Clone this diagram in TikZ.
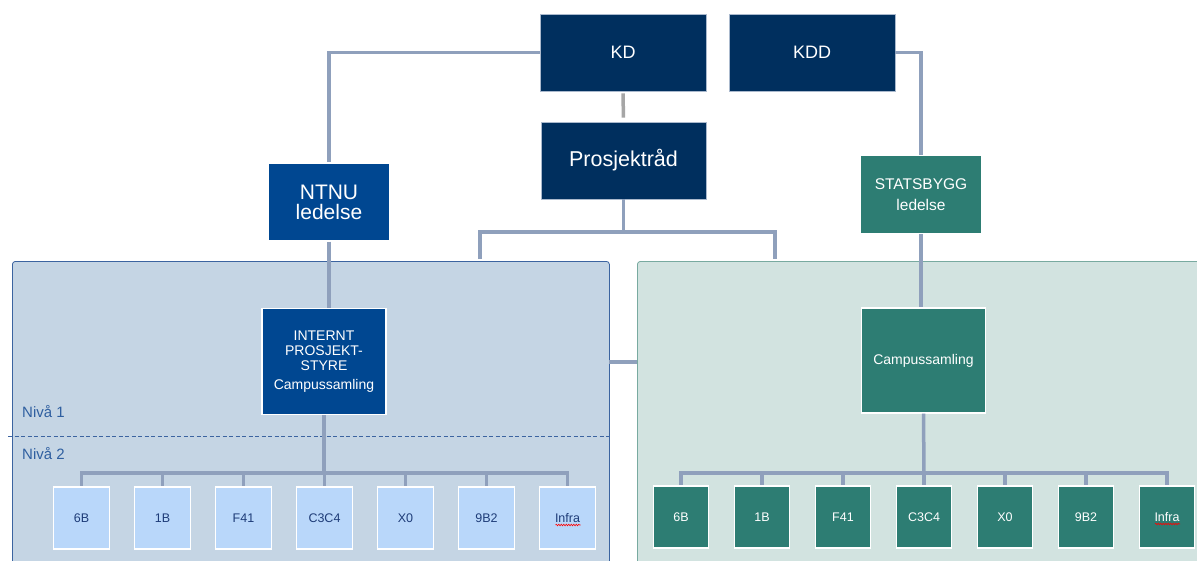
\documentclass[tikz,border=0pt]{standalone}
\usepackage{fontspec}
\setmainfont{Liberation Sans}
\usetikzlibrary{decorations.pathmorphing}
\definecolor{navy}{RGB}{0,47,94}
\definecolor{ntnublue}{RGB}{0,71,145}
\definecolor{teal}{RGB}{45,125,115}
\definecolor{lpfill}{RGB}{197,213,228}
\definecolor{lpdraw}{RGB}{60,100,160}
\definecolor{rpfill}{RGB}{210,227,224}
\definecolor{rpdraw}{RGB}{120,170,160}
\definecolor{lightbox}{RGB}{185,215,250}
\definecolor{lighttext}{RGB}{30,60,120}
\definecolor{conncol}{RGB}{143,160,188}
\definecolor{conngraycol}{RGB}{166,166,166}
\definecolor{nivacol}{RGB}{47,95,160}
\definecolor{topborder}{RGB}{170,185,205}
\newcommand{\fsz}[1]{\fontsize{#1}{#1}\selectfont}
\begin{document}
\begin{tikzpicture}[x=1pt,y=-1pt,
  conn/.style={draw=conncol,line width=3.5pt},
  conngray/.style={draw=conngraycol,line width=3.5pt},
  topbox/.style={fill=navy,draw=topborder,line width=0.8pt,text=white,inner sep=0pt,align=center},
  ntbox/.style={fill=ntnublue,draw=white,line width=1.2pt,text=white,inner sep=0pt,align=center},
  tealbox/.style={fill=teal,draw=white,line width=1.2pt,text=white,inner sep=0pt,align=center},
  panel/.style={rounded corners=3pt,line width=0.8pt},
  smallL/.style={fill=lightbox,draw=white,line width=1.5pt,text=lighttext,minimum width=56pt,minimum height=62pt,inner sep=0pt,font=\fsz{12.5}},
  smallR/.style={fill=teal,draw=white,line width=1.5pt,text=white,minimum width=55pt,minimum height=62pt,inner sep=0pt,font=\fsz{12.5}},
  niva/.style={text=nivacol,anchor=west,inner sep=0pt,font=\fsz{15}},
  squig/.style={draw=red,line width=0.6pt,decorate,decoration={snake,amplitude=0.8pt,segment length=2.5pt}}
]
\useasboundingbox (0,0) rectangle (1197,560);
\clip (0,0) rectangle (1197,560);
\fill[white] (0,0) rectangle (1197,560);

% panels
\node[panel,fill=lpfill,draw=lpdraw,minimum width=597pt,minimum height=330pt,anchor=north west,inner sep=0pt] (lp) at (12,261) {};
\node[panel,fill=rpfill,draw=rpdraw,minimum width=590pt,minimum height=330pt,anchor=north west,inner sep=0pt] (rp) at (637,261) {};
\draw[draw=lpdraw,dashed,line width=0.9pt,dash pattern=on 4pt off 2.5pt] (8,436) -- (609,436);
\node[niva] (n1) at (22,412) {Nivå 1};
\node[niva] (n2) at (22,454) {Nivå 2};

% top boxes
\node[topbox,minimum width=166pt,minimum height=77pt,font=\fsz{18}] (kd) at (623,52.5) {KD};
\node[topbox,minimum width=166pt,minimum height=77pt,font=\fsz{18}] (kdd) at (812,52.5) {KDD};
\node[topbox,minimum width=165pt,minimum height=77pt,font=\fsz{21.5}] (pr) at (623.5,160.5) {Prosjektråd};
\node[ntbox,minimum width=122pt,minimum height=78pt,font=\fontsize{21}{20}\selectfont] (ntnu) at (329,202) {NTNU\\ledelse};
\node[tealbox,minimum width=122pt,minimum height=78pt,font=\fsz{15.5}] (sb) at (921,194.5) {STATSBYGG\\[6pt]ledelse};
\node[ntbox,minimum width=124pt,minimum height=106pt,font=\fontsize{14}{15}\selectfont] (internt) at (324,361.5) {INTERNT\\PROSJEKT-\\STYRE\\[4pt]Campussamling};
\node[tealbox,minimum width=124pt,minimum height=105pt,font=\fsz{14}] (camp) at (923.5,360.5) {Campussamling};

% coordinates for connectors
\coordinate (pbus) at (623.5,232);
\coordinate (pl) at (480,259);
\coordinate (prr) at (775,259);
\coordinate (lpc) at (609,362);
\coordinate (rpc) at (637,362);
\coordinate (lbus) at (324,473);
\coordinate (rbus) at (924,473);

\draw[conn] (kd.west) -| (ntnu.north);
\draw[conn] (kdd.east) -| (sb.north);
\draw[conngray,shorten <=2pt,shorten >=4pt] (kd.south) -- (pr.north);
\draw[conn] (pr.south) -- (pbus);
\draw[conn] (pl) |- (pbus) -| (prr);
\draw[conn] (ntnu.south) -- (ntnu.south |- internt.north);
\draw[conn] (sb.south) -- (sb.south |- camp.north);
\draw[conn] (lpc) -- (rpc);
\draw[conn] (internt.south) -- (lbus);
\draw[conn] (camp.south) -- (rbus);

% small boxes
\foreach \lab [count=\i] in {6B,1B,F41,C3C4,X0,9B2,Infra}{
  \node[smallL] (l\i) at ({81.5+81*(\i-1)},518) {\lab};
  \node[smallR] (r\i) at ({681+81*(\i-1)},517) {\lab};
}
\draw[conn] (l1.north) -- (l1.north |- lbus) -- (l7.north |- lbus) -- (l7.north);
\draw[conn] (r1.north) -- (r1.north |- rbus) -- (r7.north |- rbus) -- (r7.north);
\foreach \i in {2,...,6}{
  \draw[conn] (l\i.north) -- (l\i.north |- lbus);
  \draw[conn] (r\i.north) -- (r\i.north |- rbus);
}
% redraw boxes over bus ends
\foreach \lab [count=\i] in {6B,1B,F41,C3C4,X0,9B2,Infra}{
  \node[smallL] at ({81.5+81*(\i-1)},518) {\lab};
  \node[smallR] at ({681+81*(\i-1)},517) {\lab};
}
\draw[squig] ([xshift=-12pt,yshift=-7pt]l7.center) -- ([xshift=13pt,yshift=-7pt]l7.center);
\draw[squig] ([xshift=-12pt,yshift=-7pt]r7.center) -- ([xshift=13pt,yshift=-7pt]r7.center);
\end{tikzpicture}
\end{document}
